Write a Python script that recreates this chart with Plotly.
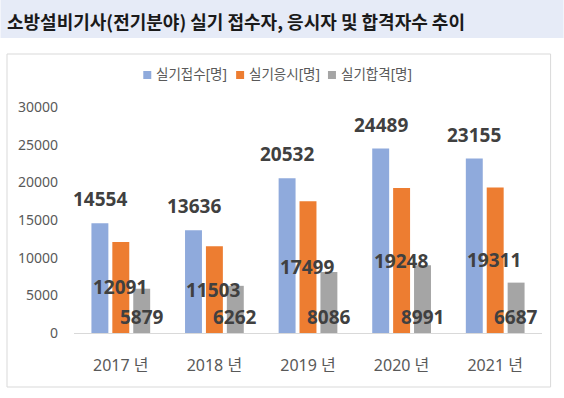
import plotly.graph_objects as go

# ---- data ----
years = ["2017 년", "2018 년", "2019 년", "2020 년", "2021 년"]
applied = [14554, 13636, 20532, 24489, 23155]
took = [12091, 11503, 17499, 19248, 19311]
passed = [5879, 6262, 8086, 8991, 6687]
series_names = ["실기접수[명]", "실기응시[명]", "실기합격[명]"]
colors = ["#8FAADC", "#ED7D31", "#A5A5A5"]
title = "소방설비기사(전기분야) 실기 접수자, 응시자 및 합격자수 추이"
y_ticks = [0, 5000, 10000, 15000, 20000, 25000, 30000]

W, H = 564, 398
L, R, T, B = 73.6, 21.6, 107, 65
PW, PH = W - L - R, H - T - B
BARGAP, GROUPGAP = 0.33, 0.19

def px_x(p):
    return (p - L) / PW

def px_y(p):
    return (H - B - p) / PH

FONT = "Noto Sans, Noto Sans CJK KR, sans-serif"
xs = list(range(len(years)))

fig = go.Figure()
for name, vals, c in zip(series_names, [applied, took, passed], colors):
    fig.add_trace(go.Bar(x=xs, y=vals, name=name, showlegend=False,
                         marker=dict(color=c, line=dict(width=0))))

off = (1 - BARGAP) / 3
ann = []
lab_font = dict(family=FONT, size=19, color="#404040")
for i in xs:
    ann.append(dict(x=i - off, y=applied[i], text=f"<b>{applied[i]}</b>", showarrow=False,
                    yanchor="bottom", yshift=9, font=lab_font))
    ann.append(dict(x=i, y=took[i] / 2, text=f"<b>{took[i]}</b>", showarrow=False,
                    yanchor="middle", xshift=-1, font=lab_font))
    ann.append(dict(x=i + off, y=0, text=f"<b>{passed[i]}</b>", showarrow=False,
                    yanchor="middle", yshift=16, font=lab_font))

# title
ann.append(dict(xref="paper", yref="paper", x=px_x(4), y=px_y(21), xanchor="left", yanchor="middle",
                text=f"<b>{title}</b>", showarrow=False,
                font=dict(family="Noto Sans CJK KR, sans-serif", size=18, color="#1a1a1a")))

shapes = [
    dict(type="rect", xref="paper", yref="paper", x0=px_x(0), x1=px_x(W), y0=px_y(38), y1=px_y(0),
         fillcolor="#E6EBF7", line=dict(width=0), layer="below"),
    dict(type="rect", xref="paper", yref="paper", x0=px_x(6.5), x1=px_x(551), y0=px_y(387), y1=px_y(54),
         fillcolor="rgba(0,0,0,0)", line=dict(color="#D9D9D9", width=1), layer="below"),
]

# legend (keys + labels)
legend_key_x = [143, 236, 328]
for name, c, kx in zip(series_names, colors, legend_key_x):
    shapes.append(dict(type="rect", xref="paper", yref="paper", x0=px_x(kx), x1=px_x(kx + 8),
                       y0=px_y(79), y1=px_y(71), fillcolor=c, line=dict(width=0)))
    ann.append(dict(xref="paper", yref="paper", x=px_x(kx + 11), y=px_y(74), xanchor="left",
                    yanchor="middle", text=name, showarrow=False,
                    font=dict(family=FONT, size=13.5, color="#595959")))

fig.update_layout(
    width=W, height=H,
    margin=dict(l=L, r=R, t=T, b=B),
    paper_bgcolor="white", plot_bgcolor="white",
    barmode="group", bargap=BARGAP, bargroupgap=GROUPGAP,
    font=dict(family=FONT, color="#595959"),
    showlegend=False,
    xaxis=dict(tickmode="array", tickvals=xs, ticktext=years, range=[-0.5, len(years) - 0.5],
               showgrid=False, zeroline=False, showline=True, linecolor="#D9D9D9", linewidth=1,
               ticks="", tickfont=dict(size=16, color="#595959"), ticklabelstandoff=18),
    yaxis=dict(range=[0, 30000], tickmode="array", tickvals=y_ticks, ticktext=[str(v) for v in y_ticks],
               showgrid=False, zeroline=False, showline=False, ticks="",
               tickfont=dict(size=14, color="#595959"), ticklabelstandoff=15),
    annotations=ann,
    shapes=shapes,
)

fig.write_html("out.html", config={"displayModeBar": False},
               post_script="document.body.style.margin='0px';document.body.style.overflow='hidden';")
